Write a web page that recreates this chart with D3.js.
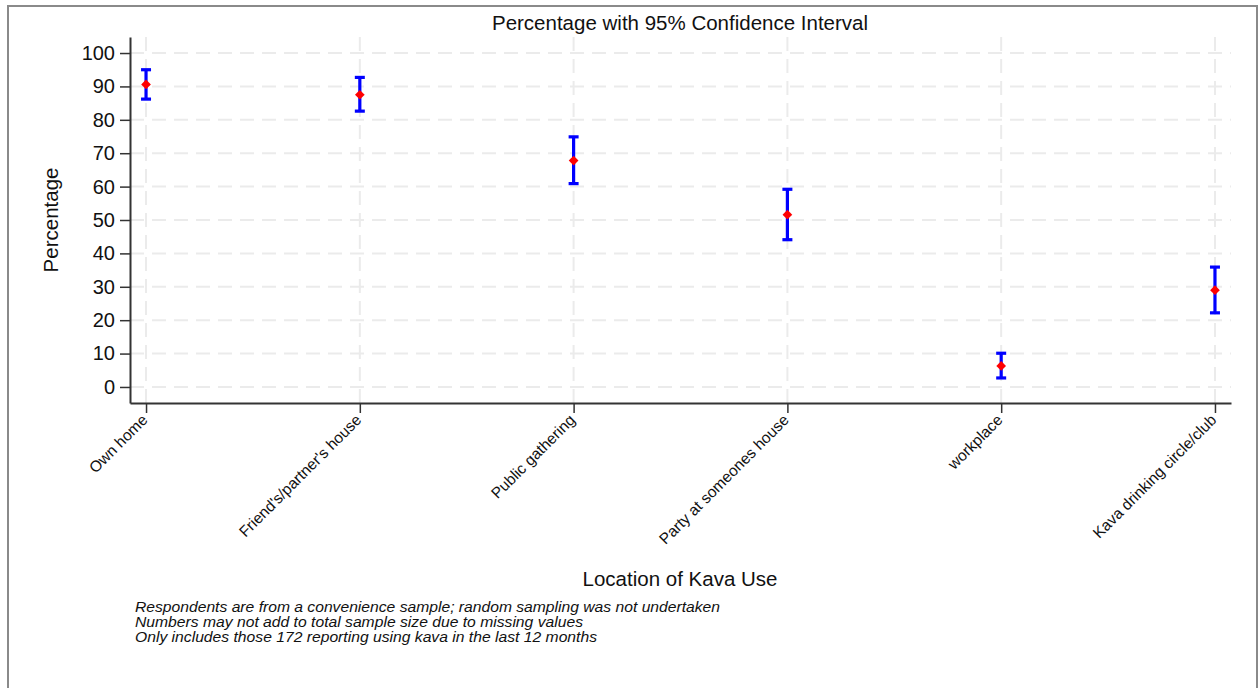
<!DOCTYPE html>
<html><head><meta charset="utf-8">
<script src="https://cdn.jsdelivr.net/npm/d3@7"></script>
<style>body{margin:0;background:#fff}svg{display:block;font-family:"Liberation Sans",Arial,sans-serif}</style>
</head><body>
<svg id="c" width="1258" height="688"></svg>
<script>
const categories = ["Own home","Friend's/partner's house","Public gathering","Party at someones house","workplace","Kava drinking circle/club"];
const means = [90.6, 87.5, 67.8, 51.6, 6.3, 29.0];
const lower = [86.2, 82.6, 60.9, 44.1, 2.7, 22.2];
const upper = [95.0, 92.7, 74.9, 59.2, 10.1, 35.9];
const yTicks = [0,10,20,30,40,50,60,70,80,90,100];
const notes = ["Respondents are from a convenience sample; random sampling was not undertaken",
  "Numbers may not add to total sample size due to missing values",
  "Only includes those 172 reporting using kava in the last 12 months"];

const svg = d3.select("#c");
svg.append("rect").attr("x",8).attr("y",6).attr("width",1249).attr("height",690)
  .attr("fill","#fff").attr("stroke","#8a8a8a").attr("stroke-width",2);

const L=130,R=1231,T=37,B=403;
const x = d3.scaleLinear().domain([-0.075, categories.length-1+0.075]).range([L,R]);
const y = d3.scaleLinear().domain([-4.8,104.8]).range([B,T]);

const grid = svg.append("g").attr("stroke","#ebebeb").attr("stroke-width",2).attr("stroke-dasharray","14,8");
grid.selectAll(".h").data(yTicks).join("line").attr("x1",L).attr("x2",R)
  .attr("y1",d=>y(d)).attr("y2",d=>y(d));
grid.selectAll(".v").data(categories).join("line").attr("y1",T).attr("y2",B)
  .attr("x1",(d,i)=>x(i)).attr("x2",(d,i)=>x(i));

// y axis
const ya = svg.append("g").attr("transform",`translate(${L},0)`)
  .call(d3.axisLeft(y).tickValues(yTicks).tickSize(10).tickPadding(5).tickSizeOuter(0));
ya.select(".domain").attr("stroke","#333").attr("stroke-width",2);
ya.selectAll(".tick line").attr("stroke","#333").attr("stroke-width",1.5);
ya.selectAll(".tick text").attr("font-size",20).attr("fill","#111").attr("font-family","Liberation Sans, Arial");

// x axis
const xa = svg.append("g").attr("transform",`translate(0,${B})`)
  .call(d3.axisBottom(x).tickValues(d3.range(categories.length)).tickFormat(i=>categories[i]).tickSize(10).tickSizeOuter(0));
xa.select(".domain").attr("stroke","#333").attr("stroke-width",2);
xa.selectAll(".tick line").attr("stroke","#333").attr("stroke-width",1.5);
xa.selectAll(".tick text").attr("font-size",15.5).attr("fill","#111").attr("font-family","Liberation Sans, Arial")
  .attr("text-anchor","end").attr("dy",0).attr("y",0)
  .attr("transform","translate(2,18) rotate(-45)");

// error bars
const eb = svg.append("g").attr("stroke","#0000ff").attr("stroke-width",3.2);
categories.forEach((c,i)=>{
  eb.append("line").attr("x1",x(i)).attr("x2",x(i)).attr("y1",y(lower[i])).attr("y2",y(upper[i]));
  eb.append("line").attr("x1",x(i)-5).attr("x2",x(i)+5).attr("y1",y(lower[i])).attr("y2",y(lower[i]));
  eb.append("line").attr("x1",x(i)-5).attr("x2",x(i)+5).attr("y1",y(upper[i])).attr("y2",y(upper[i]));
});
svg.append("g").selectAll("path").data(means).join("path")
  .attr("d",d3.symbol(d3.symbolDiamond2,60)())
  .attr("transform",(d,i)=>`translate(${x(i)},${y(d)})`).attr("fill","#ff0000");

// titles
svg.append("text").attr("x",680).attr("y",30).attr("text-anchor","middle").attr("font-size",20.5).attr("fill","#111")
  .text("Percentage with 95% Confidence Interval");
svg.append("text").attr("transform","translate(58,220) rotate(-90)").attr("text-anchor","middle").attr("font-size",20.5).attr("fill","#111")
  .text("Percentage");
svg.append("text").attr("x",680).attr("y",586).attr("text-anchor","middle").attr("font-size",20.5).attr("fill","#111")
  .text("Location of Kava Use");
svg.append("g").selectAll("text").data(notes).join("text")
  .attr("x",135).attr("y",(d,i)=>612+i*15).attr("font-size",15.5).attr("font-style","italic").attr("fill","#111")
  .attr("textLength",(d,i)=>[585,448,462][i]).attr("lengthAdjust","spacingAndGlyphs")
  .text(d=>d);
</script>
</body></html>
